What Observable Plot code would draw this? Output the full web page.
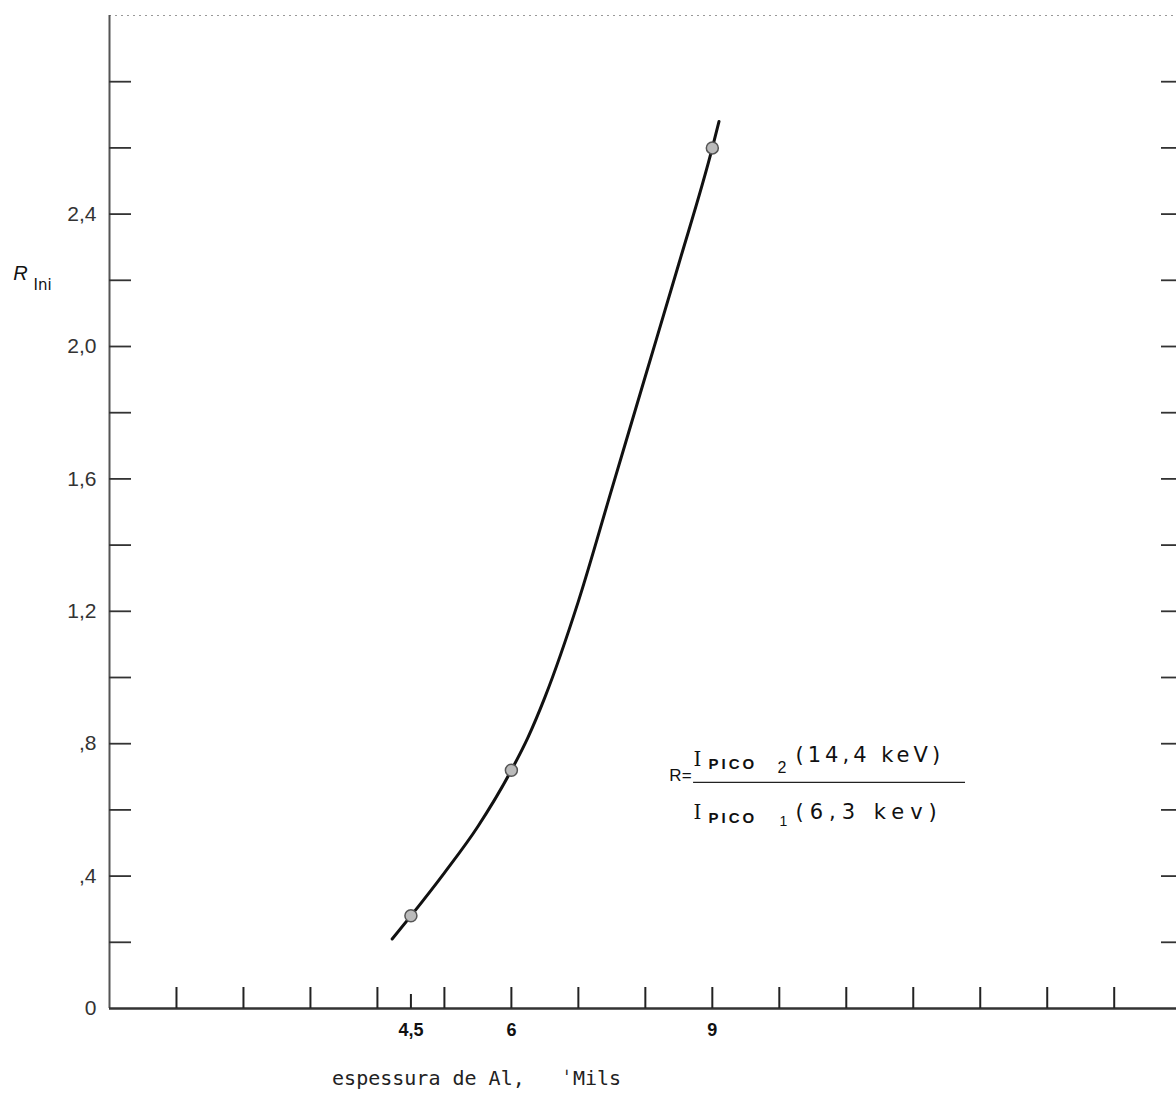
<!DOCTYPE html>
<html>
<head>
<meta charset="utf-8">
<script src="https://cdn.jsdelivr.net/npm/d3@7"></script>
<script src="https://cdn.jsdelivr.net/npm/@observablehq/plot@0.6"></script>
<style>
  html, body { margin: 0; padding: 0; background: #fff; }
  #chart svg { display: block; }
</style>
</head>
<body>
<div id="chart"></div>
<script>
// measured points (espessura de Al, Mils ; R)
const measuredX = [4.5, 6, 9];
const measuredR = [0.28, 0.72, 2.60];

// hand-drawn fitted curve
const curveX = [4.22, 4.5, 5.0, 5.5, 6.0, 6.25, 6.5, 7.0, 7.5, 8.0, 8.5, 9.0, 9.1];
const curveR = [0.21, 0.28, 0.41, 0.55, 0.72, 0.82, 0.94, 1.23, 1.57, 1.91, 2.25, 2.60, 2.68];

// axis ticks and labels
const yMinorTicks = [0.2, 0.4, 0.6, 0.8, 1.0, 1.2, 1.4, 1.6, 1.8, 2.0, 2.2, 2.4, 2.6, 2.8];
const yLabelValues = [0, 0.4, 0.8, 1.2, 1.6, 2.0, 2.4];
const yLabelTexts = ["0", ",4", ",8", "1,2", "1,6", "2,0", "2,4"];
const xTicks = [1, 2, 3, 4, 5, 6, 7, 8, 9, 10, 11, 12, 13, 14, 15];
const xHalfTicks = [4.5];
const xLabelValues = [4.5, 6, 9];
const xLabelTexts = ["4,5", "6", "9"];

const xTitle = "espessura de Al,   \u02C8Mils";
const numText = "(14,4 keV)";
const denText = "(6,3 kev)";
const xMax = 15.93;
const yMax = 3;

const curve = curveX.map((x, i) => ({x, r: curveR[i]}));
const points = measuredX.map((x, i) => ({x, r: measuredR[i]}));

// formula annotation anchor (left end of the fraction bar)
const annX = 8.72, annY = 0.683;

const chart = Plot.plot({
  width: 1176,
  height: 1108,
  marginLeft: 109,
  marginRight: 0,
  marginTop: 15,
  marginBottom: 100,
  style: {background: "#fff", fontFamily: "Liberation Sans, Arial, sans-serif", color: "#222"},
  x: {domain: [0, xMax], axis: null},
  y: {domain: [0, yMax], axis: null},
  marks: [
    // frame
    Plot.ruleY([yMax], {stroke: "#999", strokeWidth: 1.2, strokeDasharray: "2,4"}),
    Plot.ruleX([0], {y1: 0, y2: yMax, stroke: "#555", strokeWidth: 2}),
    Plot.ruleY([0], {x1: 0, x2: xMax, stroke: "#333", strokeWidth: 2.5}),
    // ticks
    Plot.axisY(yMinorTicks, {anchor: "left", tickSize: -22, fill: "none", stroke: "#333", strokeWidth: 1.8, label: null}),
    Plot.axisY(yMinorTicks, {anchor: "right", tickSize: -16, fill: "none", stroke: "#333", strokeWidth: 1.8, label: null}),
    Plot.axisX(xTicks, {anchor: "bottom", tickSize: -21, fill: "none", stroke: "#222", strokeWidth: 2, label: null}),
    Plot.axisX(xHalfTicks, {anchor: "bottom", tickSize: -14, fill: "none", stroke: "#222", strokeWidth: 2, label: null}),
    // tick labels
    Plot.axisY(yLabelValues, {
      anchor: "left", tickSize: 0, tickPadding: 13, label: null,
      tickFormat: d => yLabelTexts[yLabelValues.indexOf(d)],
      fontSize: 21, fill: "#333"
    }),
    Plot.axisX(xLabelValues, {
      anchor: "bottom", tickSize: 0, tickPadding: 15, label: null,
      tickFormat: d => xLabelTexts[xLabelValues.indexOf(d)],
      fontSize: 18, fontWeight: "bold", fill: "#111"
    }),
    // axis titles
    Plot.text([xTitle], {x: 5.48, frameAnchor: "bottom", dy: 76, text: d => d,
      fontFamily: "DejaVu Sans Mono, monospace", fontSize: 20, fill: "#222"}),
    Plot.text(["R"], {x: 0, y: 2.22, dx: -89, text: d => d, fontSize: 20, fontStyle: "italic", fill: "#111"}),
    Plot.text(["Ini"], {x: 0, y: 2.22, dx: -67, dy: 12, text: d => d, fontSize: 15, fontFamily: "DejaVu Sans, sans-serif", fill: "#111"}),
    // curve and points
    Plot.line(curve, {x: "x", y: "r", curve: "monotone-x", stroke: "#111", strokeWidth: 3}),
    Plot.dot(points, {x: "x", y: "r", r: 6, fill: "#bbb", stroke: "#555", strokeWidth: 1.5}),
    // formula
    Plot.ruleY([annY], {x1: annX, x2: annX + 4.06, stroke: "#222", strokeWidth: 1.3}),
    Plot.text(["R="], {x: annX, y: annY, dx: -2, dy: -7, textAnchor: "end", text: d => d, fontSize: 17, fill: "#111"}),
    Plot.text(["I"], {x: annX, y: annY, dx: 0, dy: -23, textAnchor: "start", text: d => d, fontSize: 20, fontFamily: "DejaVu Serif, serif", fill: "#111"}),
    Plot.text(["PICO"], {x: annX, y: annY, dx: 15, dy: -18, textAnchor: "start", text: d => d, fontSize: 15, fontWeight: "bold", fill: "#111"}),
    Plot.text(["2"], {x: annX, y: annY, dx: 84, dy: -15, textAnchor: "start", text: d => d, fontSize: 16, fill: "#111"}),
    Plot.text([numText], {x: annX, y: annY, dx: 102, dy: -27, textAnchor: "start", text: d => d, fontSize: 21, fontFamily: "DejaVu Sans, sans-serif", fill: "#111"}),
    Plot.text(["I"], {x: annX, y: annY, dx: 0, dy: 30, textAnchor: "start", text: d => d, fontSize: 20, fontFamily: "DejaVu Serif, serif", fill: "#111"}),
    Plot.text(["PICO"], {x: annX, y: annY, dx: 15, dy: 36, textAnchor: "start", text: d => d, fontSize: 15, fontWeight: "bold", fill: "#111"}),
    Plot.text(["1"], {x: annX, y: annY, dx: 86, dy: 39, textAnchor: "start", text: d => d, fontSize: 14, fill: "#111"}),
    Plot.text([denText], {x: annX, y: annY, dx: 102, dy: 30, textAnchor: "start", text: d => d, fontSize: 21, fontFamily: "DejaVu Sans, sans-serif", fill: "#111"})
  ]
});

// letter spacing (not a Plot text option) for the typed formula
const spacing = new Map([["PICO", "3px"], [numText, "4px"], [denText, "6px"]]);
d3.select(chart).selectAll("text").each(function () {
  const s = spacing.get(this.textContent);
  if (s) this.style.letterSpacing = s;
});

document.getElementById("chart").appendChild(chart);
</script>
</body>
</html>
